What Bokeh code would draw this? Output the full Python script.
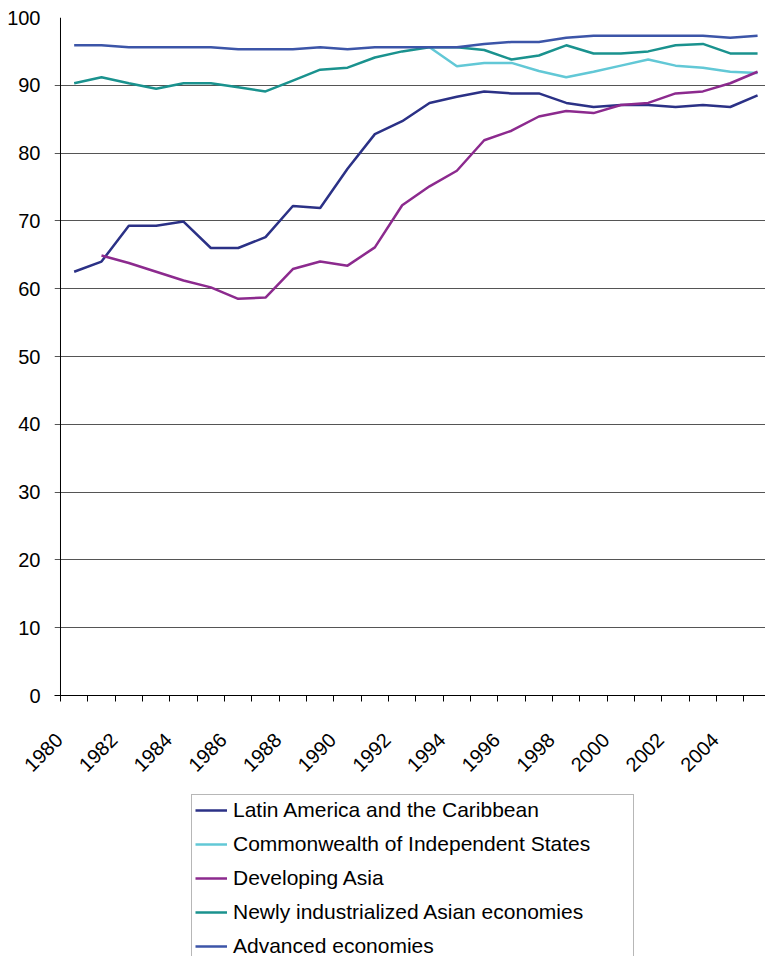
import math
from bokeh.plotting import figure
from bokeh.layouts import column
from bokeh.models import Legend, LegendItem, FixedTicker, Range1d, CustomJSTickFormatter, Span
from bokeh.embed import file_html
from bokeh.resources import INLINE

years = list(range(1980, 2006))
latin_america = [62.5, 64.0, 69.3, 69.3, 69.9, 66.0, 66.0, 67.6, 72.2, 71.9, 77.7, 82.8, 84.7,
                 87.4, 88.3, 89.1, 88.8, 88.8, 87.4, 86.8, 87.1, 87.1, 86.8, 87.1, 86.8, 88.5]
cis_years = list(range(1993, 2006))
cis = [95.6, 92.8, 93.3, 93.3, 92.1, 91.2, 92.0, 92.9, 93.8, 92.9, 92.6, 92.0, 91.8]
asia_years = list(range(1981, 2006))
developing_asia = [64.9, 63.8, 62.5, 61.2, 60.2, 58.5, 58.7, 62.9, 64.0, 63.4, 66.1, 72.3,
                   75.1, 77.4, 81.9, 83.3, 85.4, 86.2, 85.9, 87.1, 87.4, 88.8, 89.1, 90.3, 92.0]
nie = [90.3, 91.2, 90.3, 89.5, 90.3, 90.3, 89.7, 89.1, 90.7, 92.3, 92.6, 94.1, 95.0,
       95.6, 95.6, 95.2, 93.8, 94.4, 95.9, 94.7, 94.7, 95.0, 95.9, 96.1, 94.7, 94.7]
advanced = [95.9, 95.9, 95.6, 95.6, 95.6, 95.6, 95.3, 95.3, 95.3, 95.6, 95.3, 95.6, 95.6,
            95.6, 95.6, 96.1, 96.4, 96.4, 97.0, 97.3, 97.3, 97.3, 97.3, 97.3, 97.0, 97.3]
label_years = list(range(1980, 2005, 2))
y_ticks = list(range(0, 101, 10))

names = ["Latin America and the Caribbean", "Commonwealth of Independent States",
         "Developing Asia", "Newly industrialized Asian economies", "Advanced economies"]
colors = ["#2B3186", "#62C8D6", "#8C2A8E", "#1A928E", "#3C55A8"]

FONT = "Liberation Sans"
LABEL_SHIFT = 0.55  # rotated labels sit left of their category
X_START = 1979.5 - 6 / 27.34  # frame begins where the y tick marks begin

p = figure(width=765, height=780, output_backend="svg", toolbar_location=None,
           x_range=Range1d(X_START, 2005.29), y_range=Range1d(0, 100),
           min_border_left=54, min_border_right=0, min_border_top=17, min_border_bottom=79)
p.outline_line_color = None
p.background_fill_color = "white"

# vertical axis line at the category start
p.add_layout(Span(location=1979.5, dimension="height", line_color="black", line_width=1))

series = [(years, latin_america), (cis_years, cis), (asia_years, developing_asia),
          (years, nie), (years, advanced)]
for (xs, ys), c in zip(series, colors):
    p.line(xs, ys, line_color=c, line_width=2.5)

# x axis
p.xaxis.ticker = FixedTicker(ticks=[y - LABEL_SHIFT for y in label_years],
                             minor_ticks=[y - 0.5 for y in years] + [2005.5])
p.xaxis.formatter = CustomJSTickFormatter(code="return String(Math.round(tick + %f));" % LABEL_SHIFT)
p.xaxis.major_tick_out = 0
p.xaxis.major_tick_in = 0
p.xaxis.minor_tick_out = 6
p.xaxis.minor_tick_in = 0
p.xaxis.minor_tick_line_color = "black"
p.xaxis.axis_line_color = "black"
p.xaxis.major_label_orientation = math.pi / 4
p.xaxis.major_label_text_font = FONT
p.xaxis.major_label_text_font_size = "20px"
p.xaxis.major_label_text_color = "black"
p.xaxis.major_label_standoff = 35
p.xgrid.grid_line_color = None

# y axis (labels only; grid lines start where tick marks would)
p.yaxis.ticker = FixedTicker(ticks=y_ticks)
p.yaxis.major_tick_out = 0
p.yaxis.major_tick_in = 0
p.yaxis.minor_tick_line_color = None
p.yaxis.major_tick_line_color = None
p.yaxis.axis_line_color = None
p.yaxis.major_label_text_font = FONT
p.yaxis.major_label_text_font_size = "20px"
p.yaxis.major_label_text_color = "black"
p.yaxis.major_label_standoff = 14
p.ygrid.grid_line_color = "#555555"
p.ygrid.grid_line_width = 1

# legend in its own strip below the chart
p2 = figure(width=765, height=176, output_backend="svg", toolbar_location=None,
            x_axis_type=None, y_axis_type=None,
            x_range=Range1d(0, 1), y_range=Range1d(0, 1),
            min_border_left=0, min_border_right=0, min_border_top=0, min_border_bottom=0)
p2.outline_line_color = None
p2.xgrid.visible = False
p2.ygrid.visible = False
items = []
for (xs, ys), name, c in zip(series, names, colors):
    r = p2.line(xs, ys, line_color=c, line_width=2.5)
    items.append(LegendItem(label=name, renderers=[r]))

legend = Legend(items=items, location=(137, -6), orientation="vertical",
                label_text_font=FONT, label_text_font_size="21px", label_text_color="black",
                glyph_width=32, glyph_height=24, label_height=24, label_standoff=6,
                label_width=397, spacing=10, padding=3, margin=0,
                border_line_color="#707070", border_line_width=1,
                background_fill_color="white", background_fill_alpha=1.0)
p2.add_layout(legend, "center")

layout = column(p, p2, spacing=0)
open("out.html", "w").write(file_html(layout, INLINE))
